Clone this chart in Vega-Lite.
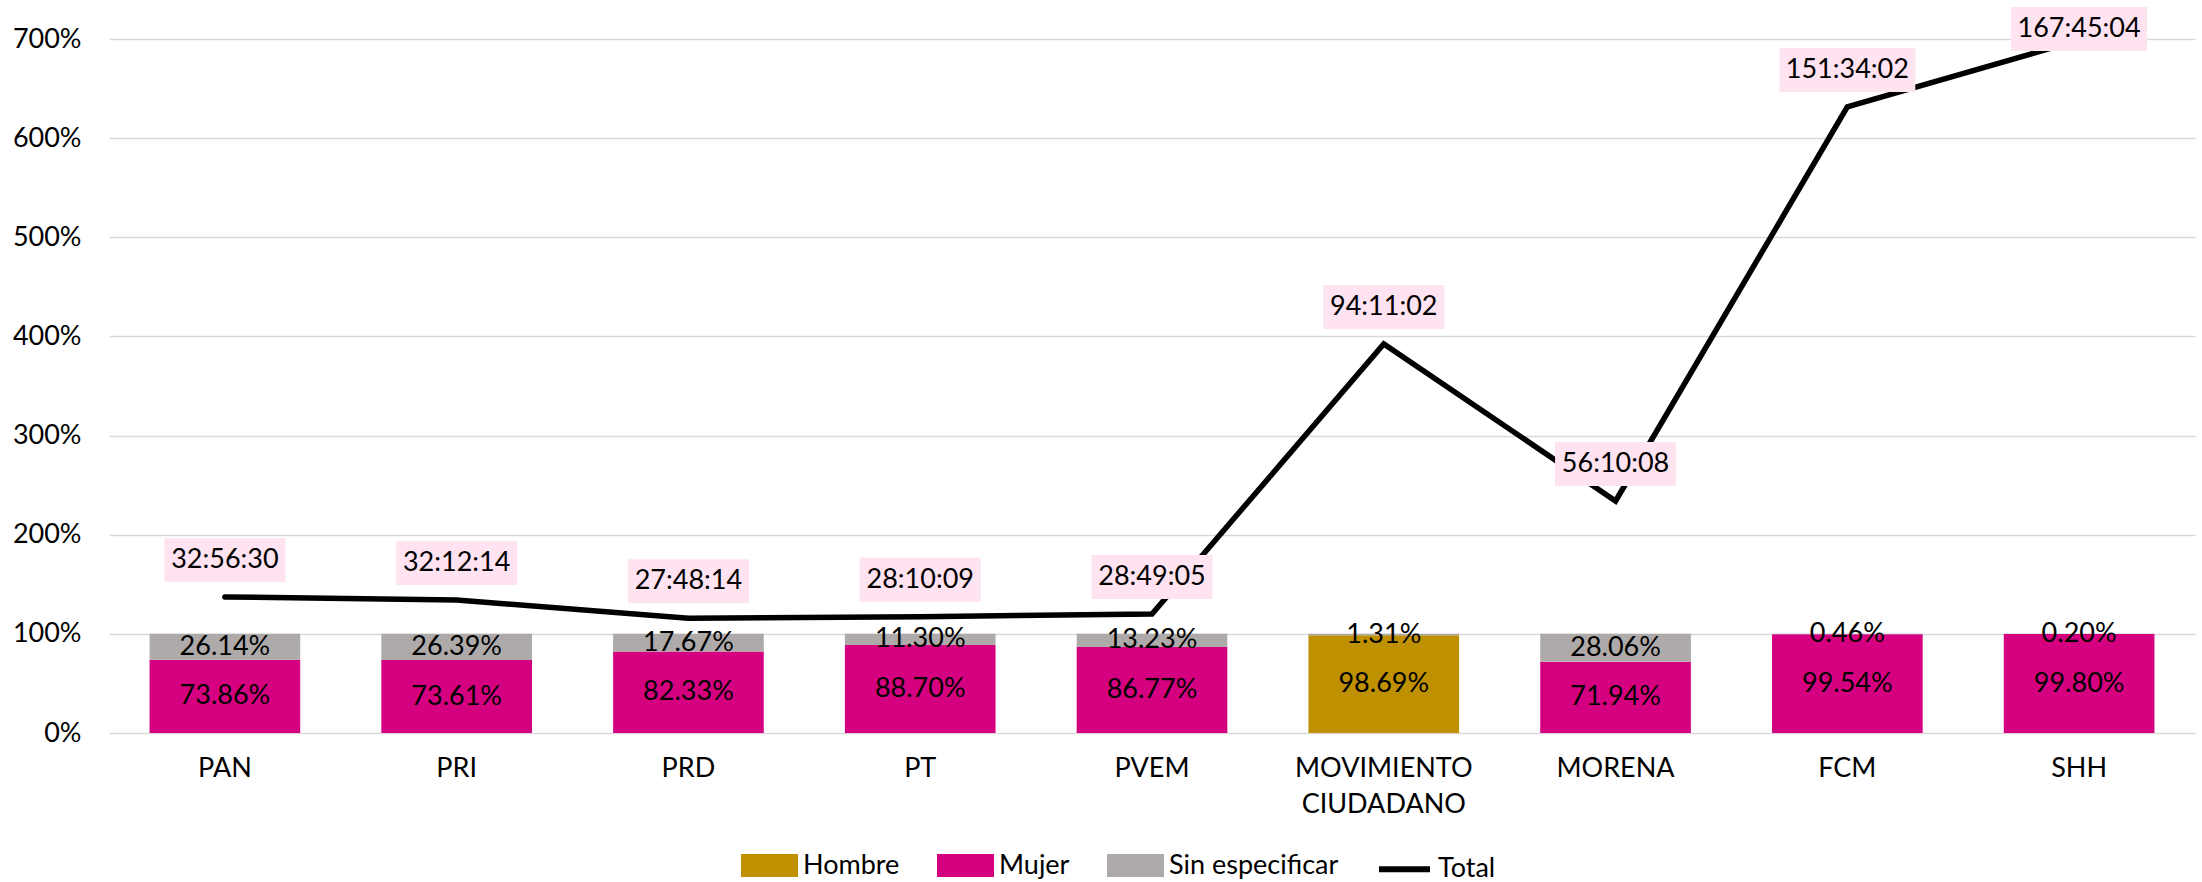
{
  "$schema": "https://vega.github.io/schema/vega-lite/v6.json",
  "width": 2086,
  "height": 694,
  "autosize": {"type": "none"},
  "padding": {"left": 109, "top": 39, "right": 7, "bottom": 149},
  "background": "white",
  "config": {
    "font": "Lato",
    "view": {"stroke": null},
    "axis": {"labelFont": "Lato", "labelFontSize": 27, "labelColor": "#000000", "titleFont": "Lato"},
    "legend": {"labelFont": "Lato"}
  },
  "datasets": {
    "barras": [
      {"partido": "PAN", "genero": "Mujer", "valor": 0.7386},
      {"partido": "PAN", "genero": "Sin especificar", "valor": 0.2614},
      {"partido": "PRI", "genero": "Mujer", "valor": 0.7361},
      {"partido": "PRI", "genero": "Sin especificar", "valor": 0.2639},
      {"partido": "PRD", "genero": "Mujer", "valor": 0.8233},
      {"partido": "PRD", "genero": "Sin especificar", "valor": 0.1767},
      {"partido": "PT", "genero": "Mujer", "valor": 0.8870},
      {"partido": "PT", "genero": "Sin especificar", "valor": 0.1130},
      {"partido": "PVEM", "genero": "Mujer", "valor": 0.8677},
      {"partido": "PVEM", "genero": "Sin especificar", "valor": 0.1323},
      {"partido": "MOVIMIENTO CIUDADANO", "genero": "Hombre", "valor": 0.9869},
      {"partido": "MOVIMIENTO CIUDADANO", "genero": "Sin especificar", "valor": 0.0131},
      {"partido": "MORENA", "genero": "Mujer", "valor": 0.7194},
      {"partido": "MORENA", "genero": "Sin especificar", "valor": 0.2806},
      {"partido": "FCM", "genero": "Mujer", "valor": 0.9954},
      {"partido": "FCM", "genero": "Sin especificar", "valor": 0.0046},
      {"partido": "SHH", "genero": "Mujer", "valor": 0.9980},
      {"partido": "SHH", "genero": "Sin especificar", "valor": 0.0020}
    ],
    "total": [
      {"partido": "PAN", "total": 1.37257, "etiqueta": "32:56:30"},
      {"partido": "PRI", "total": 1.34183, "etiqueta": "32:12:14"},
      {"partido": "PRD", "total": 1.15850, "etiqueta": "27:48:14"},
      {"partido": "PT", "total": 1.17371, "etiqueta": "28:10:09"},
      {"partido": "PVEM", "total": 1.20075, "etiqueta": "28:49:05"},
      {"partido": "MOVIMIENTO CIUDADANO", "total": 3.92433, "etiqueta": "94:11:02"},
      {"partido": "MORENA", "total": 2.34037, "etiqueta": "56:10:08"},
      {"partido": "FCM", "total": 6.31530, "etiqueta": "151:34:02"},
      {"partido": "SHH", "total": 6.98963, "etiqueta": "167:45:04"}
    ]
  },
  "encoding": {
    "x": {
      "field": "partido",
      "type": "nominal",
      "sort": ["PAN", "PRI", "PRD", "PT", "PVEM", "MOVIMIENTO CIUDADANO", "MORENA", "FCM", "SHH"],
      "scale": {"paddingInner": 0.35, "paddingOuter": 0.175},
      "axis": {
        "title": null,
        "labelAngle": 0,
        "domain": false,
        "ticks": false,
        "labelPadding": 22,
        "labelLineHeight": 36,
        "labelExpr": "datum.value == 'MOVIMIENTO CIUDADANO' ? ['MOVIMIENTO', 'CIUDADANO'] : datum.value"
      }
    }
  },
  "layer": [
    {
      "data": {"name": "barras"},
      "mark": {"type": "bar"},
      "encoding": {
        "y": {
          "field": "valor",
          "type": "quantitative",
          "stack": "zero",
          "scale": {"domain": [0, 7], "nice": false},
          "axis": {
            "title": null,
            "format": ".0%",
            "values": [0, 1, 2, 3, 4, 5, 6, 7],
            "domain": false,
            "ticks": false,
            "labelPadding": 28,
            "grid": true,
            "gridColor": "#D9D9D9",
            "gridWidth": 1.6
          }
        },
        "order": {"field": "genero", "type": "nominal", "sort": "ascending"},
        "color": {
          "field": "genero",
          "type": "nominal",
          "scale": {
            "domain": ["Hombre", "Mujer", "Sin especificar", "Total"],
            "range": ["#BF9000", "#D5007F", "#AEAAAA", "#000000"]
          },
          "legend": {
            "title": null,
            "orient": "none",
            "direction": "horizontal",
            "legendX": 632,
            "legendY": 798,
            "padding": 0,
            "labelFontSize": 27,
            "labelColor": "#000000",
            "labelLimit": 0,
            "labelOffset": 5,
            "labelBaseline": "middle",
            "columnPadding": 28,
            "symbolSize": 2601,
            "encode": {
              "symbols": {
                "update": {
                  "shape": {"signal": "datum.value === 'Total' ? 'stroke' : 'M-1,-0.333H1V0.333H-1Z'"},
                  "size": {"value": 2601},
                  "fill": {"signal": "datum.value === 'Total' ? 'transparent' : scale('color', datum.value)"},
                  "stroke": {"signal": "datum.value === 'Total' ? '#000000' : 'transparent'"},
                  "strokeWidth": {"value": 6},
                  "opacity": {"value": 1},
                  "fillOpacity": {"value": 1},
                  "strokeOpacity": {"value": 1}
                }
              }
            }
          }
        }
      }
    },
    {
      "data": {"name": "barras"},
      "transform": [
        {"stack": "valor", "groupby": ["partido"], "sort": [{"field": "genero", "order": "ascending"}], "as": ["v0", "v1"]},
        {"calculate": "(datum.v0 + datum.v1) / 2", "as": "medio"}
      ],
      "mark": {"type": "text", "fontSize": 27, "font": "Lato", "color": "#000000", "baseline": "middle", "align": "center"},
      "encoding": {
        "y": {"field": "medio", "type": "quantitative"},
        "text": {"field": "valor", "type": "quantitative", "format": ".2%"}
      }
    },
    {
      "data": {"name": "total"},
      "mark": {"type": "line", "strokeWidth": 5.5, "strokeCap": "round", "strokeJoin": "miter"},
      "encoding": {
        "y": {"field": "total", "type": "quantitative"},
        "color": {"datum": "Total", "type": "nominal"}
      }
    },
    {
      "data": {"name": "total"},
      "transform": [{"filter": "datum.partido != 'SHH'"}],
      "layer": [
        {
          "mark": {"type": "point", "filled": true, "opacity": 1, "color": "#FFE3F0", "strokeWidth": 0, "yOffset": -37},
          "encoding": {
            "y": {"field": "total", "type": "quantitative"},
            "shape": {"condition": {"test": "length(datum.etiqueta) > 8", "value": "M-1,-0.3235H1V0.3235H-1Z"}, "value": "M-1,-0.3636H1V0.3636H-1Z"},
            "size": {"condition": {"test": "length(datum.etiqueta) > 8", "value": 18496}, "value": 14641}
          }
        },
        {
          "mark": {"type": "text", "fontSize": 27, "font": "Lato", "color": "#000000", "baseline": "middle", "align": "center", "yOffset": -37},
          "encoding": {
            "y": {"field": "total", "type": "quantitative"},
            "text": {"field": "etiqueta", "type": "nominal"}
          }
        }
      ]
    },
    {
      "data": {"name": "total"},
      "transform": [{"filter": "datum.partido == 'SHH'"}],
      "layer": [
        {
          "mark": {"type": "point", "filled": true, "opacity": 1, "color": "#FFE3F0", "strokeWidth": 0, "yOffset": -11},
          "encoding": {
            "y": {"field": "total", "type": "quantitative"},
            "shape": {"condition": {"test": "length(datum.etiqueta) > 8", "value": "M-1,-0.3235H1V0.3235H-1Z"}, "value": "M-1,-0.3636H1V0.3636H-1Z"},
            "size": {"condition": {"test": "length(datum.etiqueta) > 8", "value": 18496}, "value": 14641}
          }
        },
        {
          "mark": {"type": "text", "fontSize": 27, "font": "Lato", "color": "#000000", "baseline": "middle", "align": "center", "yOffset": -11},
          "encoding": {
            "y": {"field": "total", "type": "quantitative"},
            "text": {"field": "etiqueta", "type": "nominal"}
          }
        }
      ]
    }
  ]
}
